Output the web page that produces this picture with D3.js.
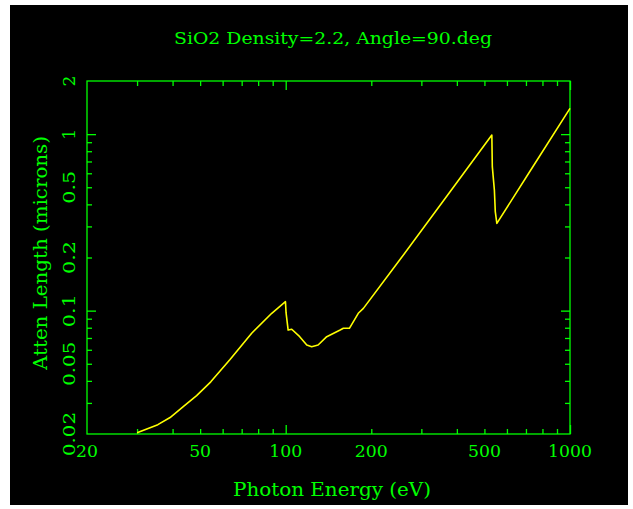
<html>
<head>
<title>SiO2 attenuation length</title>
<style>
  body { margin: 0; background: #fff; }
  svg { display: block; }
  text { font-family: "DejaVu Serif", "Liberation Serif", serif; fill: #00ff00; }
  .tick line { stroke: #00ff00; stroke-width: 1.3; }
</style>
<script src="https://cdnjs.cloudflare.com/ajax/libs/d3/7.8.5/d3.min.js"></script>
</head>
<body>
<svg></svg>
<script>
// photon energy (eV) and attenuation length (microns)
const energy = [30, 35.5, 39.2, 43.5, 48.6, 54.5, 63.7, 75.9, 89.3, 99.8, 100.3, 102, 105, 112, 118.6, 123.4, 130, 139.4, 155.4, 159.5, 167.5, 180, 187.6, 252, 378, 531, 533, 542, 546, 553, 724, 1000];
const atten  = [0.0203, 0.0226, 0.0248, 0.0285, 0.0330, 0.0395, 0.0528, 0.0744, 0.0966, 0.1124, 0.097, 0.0776, 0.0784, 0.0712, 0.0639, 0.0625, 0.0639, 0.0712, 0.0776, 0.0794, 0.0794, 0.0966, 0.103, 0.194, 0.47, 0.988, 0.654, 0.482, 0.364, 0.312, 0.618, 1.40];

const xLabels = [20, 50, 100, 200, 500, 1000];
const yLabels = [0.02, 0.05, 0.1, 0.2, 0.5, 1, 2];
const xMajor = [100, 1000];
const xMinor = [30, 40, 50, 60, 70, 80, 90, 200, 300, 400, 500, 600, 700, 800, 900];
const yMajor = [0.1, 1];
const yMinor = [0.03, 0.04, 0.05, 0.06, 0.07, 0.08, 0.09, 0.2, 0.3, 0.4, 0.5, 0.6, 0.7, 0.8, 0.9];

const width = 633, height = 509;
const frame = { left: 87, right: 570, top: 81, bottom: 434 };

const svg = d3.select('svg').attr('width', width).attr('height', height);

svg.append('rect')
  .attr('x', 10).attr('y', 5)
  .attr('width', 618).attr('height', 500)
  .attr('fill', '#000');

const x = d3.scaleLog().domain([20, 1000]).range([frame.left, frame.right]);
const y = d3.scaleLog().domain([0.02, 2]).range([frame.bottom, frame.top]);

// ticks on all four sides, pointing inwards
function ticks(axis, vals, size, tx, ty) {
  const g = svg.append('g')
    .attr('transform', `translate(${tx},${ty})`)
    .call(axis.tickValues(vals).tickSizeInner(-size).tickSizeOuter(0).tickFormat(''));
  g.select('.domain').remove();
}
ticks(d3.axisBottom(x), xMinor, 5, 0, frame.bottom);
ticks(d3.axisBottom(x), xMajor, 9, 0, frame.bottom);
ticks(d3.axisTop(x), xMinor, 5, 0, frame.top);
ticks(d3.axisTop(x), xMajor, 9, 0, frame.top);
ticks(d3.axisLeft(y), yMinor, 5, frame.left, 0);
ticks(d3.axisLeft(y), yMajor, 9, frame.left, 0);
ticks(d3.axisRight(y), yMinor, 5, frame.right, 0);
ticks(d3.axisRight(y), yMajor, 9, frame.right, 0);

svg.append('rect')
  .attr('x', frame.left).attr('y', frame.top)
  .attr('width', frame.right - frame.left).attr('height', frame.bottom - frame.top)
  .attr('fill', 'none')
  .attr('stroke', '#00ff00')
  .attr('stroke-width', 1.3);

// tick labels
svg.selectAll('.xl')
  .data(xLabels)
  .enter()
  .append('text')
  .attr('class', 'xl')
  .attr('x', d => x(d))
  .attr('y', 457)
  .attr('text-anchor', 'middle')
  .style('font-size', '17.5px')
  .attr('textLength', d => String(d).length * 11)
  .attr('lengthAdjust', 'spacingAndGlyphs')
  .text(d => d);

svg.selectAll('.yl')
  .data(yLabels)
  .enter()
  .append('text')
  .attr('class', 'yl')
  .attr('transform', d => `translate(75,${y(d)}) rotate(-90)`)
  .attr('text-anchor', 'middle')
  .style('font-size', '17.5px')
  .attr('textLength', d => String(d).length * 11)
  .attr('lengthAdjust', 'spacingAndGlyphs')
  .text(d => d);

// the curve
const line = d3.line()
  .x((d, i) => x(energy[i]))
  .y(d => y(d));

svg.append('path')
  .datum(atten)
  .attr('d', line)
  .attr('fill', 'none')
  .attr('stroke', '#ffff00')
  .attr('stroke-width', 1.6)
  .attr('stroke-linejoin', 'round');

// titles
svg.append('text')
  .attr('x', 333).attr('y', 44)
  .attr('text-anchor', 'middle')
  .style('font-size', '16.5px')
  .attr('textLength', 318)
  .attr('lengthAdjust', 'spacingAndGlyphs')
  .text('SiO2 Density=2.2, Angle=90.deg');

svg.append('text')
  .attr('x', 332).attr('y', 496)
  .attr('text-anchor', 'middle')
  .style('font-size', '19px')
  .attr('textLength', 198)
  .attr('lengthAdjust', 'spacingAndGlyphs')
  .text('Photon Energy (eV)');

svg.append('text')
  .attr('transform', 'translate(47,253) rotate(-90)')
  .attr('text-anchor', 'middle')
  .style('font-size', '19px')
  .attr('textLength', 234)
  .attr('lengthAdjust', 'spacingAndGlyphs')
  .text('Atten Length (microns)');
</script>
</body>
</html>
